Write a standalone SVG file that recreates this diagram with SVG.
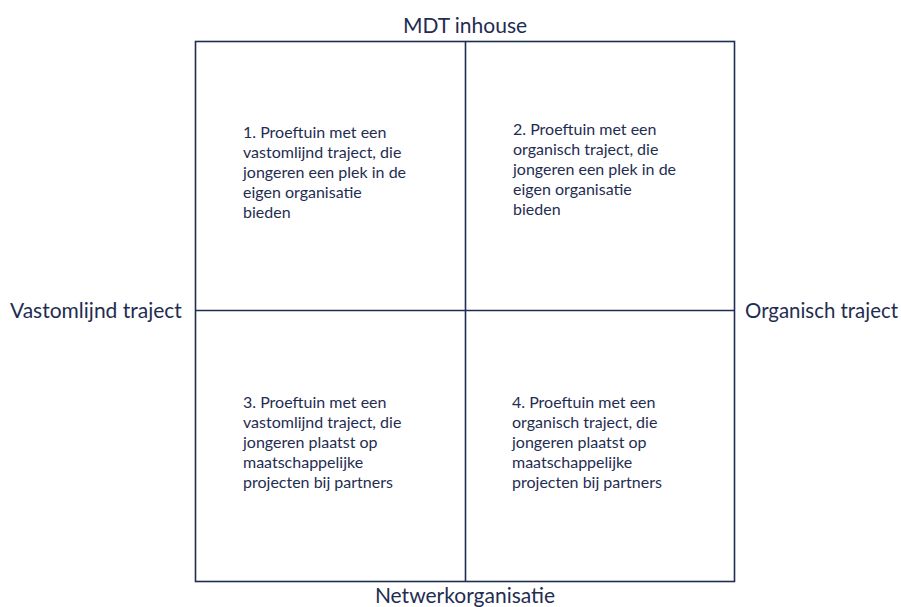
<svg xmlns="http://www.w3.org/2000/svg" width="901" height="607" viewBox="0 0 901 607">
<style>
.ln{stroke:#1f2d52;stroke-width:1.6;fill:none}
.ax{font-family:Lato,"Open Sans",sans-serif;font-size:21px;fill:#1f2d52}
.q{font-family:Lato,"Open Sans",sans-serif;font-size:16px;fill:#1f2d52}
</style>
<rect width="901" height="607" fill="#ffffff"/>
<g id="connectors">
<rect class="ln" x="195.5" y="41.5" width="539" height="540"/>
<line class="ln" x1="465.5" y1="41.5" x2="465.5" y2="581.5"/>
<line class="ln" x1="195.5" y1="310.5" x2="734.5" y2="310.5"/>
</g>
<g id="axis-top"><text class="ax" x="465" y="33" text-anchor="middle">MDT inhouse</text></g>
<g id="axis-bottom"><text class="ax" x="465" y="603" text-anchor="middle">Netwerkorganisatie</text></g>
<g id="axis-left"><text class="ax" x="10" y="318">Vastomlijnd traject</text></g>
<g id="axis-right"><text class="ax" x="745" y="318" textLength="153" lengthAdjust="spacingAndGlyphs">Organisch traject</text></g>
<g id="q1"><text class="q" x="243" y="138"><tspan x="243">1. Proeftuin met een</tspan><tspan x="243" dy="20">vastomlijnd traject, die</tspan><tspan x="243" dy="20">jongeren een plek in de</tspan><tspan x="243" dy="20">eigen organisatie</tspan><tspan x="243" dy="20">bieden</tspan></text></g>
<g id="q2"><text class="q" x="513" y="135"><tspan x="513">2. Proeftuin met een</tspan><tspan x="513" dy="20">organisch traject, die</tspan><tspan x="513" dy="20">jongeren een plek in de</tspan><tspan x="513" dy="20">eigen organisatie</tspan><tspan x="513" dy="20">bieden</tspan></text></g>
<g id="q3"><text class="q" x="243" y="408"><tspan x="243">3. Proeftuin met een</tspan><tspan x="243" dy="20">vastomlijnd traject, die</tspan><tspan x="243" dy="20">jongeren plaatst op</tspan><tspan x="243" dy="20">maatschappelijke</tspan><tspan x="243" dy="20">projecten bij partners</tspan></text></g>
<g id="q4"><text class="q" x="512" y="408"><tspan x="512">4. Proeftuin met een</tspan><tspan x="512" dy="20">organisch traject, die</tspan><tspan x="512" dy="20">jongeren plaatst op</tspan><tspan x="512" dy="20">maatschappelijke</tspan><tspan x="512" dy="20">projecten bij partners</tspan></text></g>
</svg>
